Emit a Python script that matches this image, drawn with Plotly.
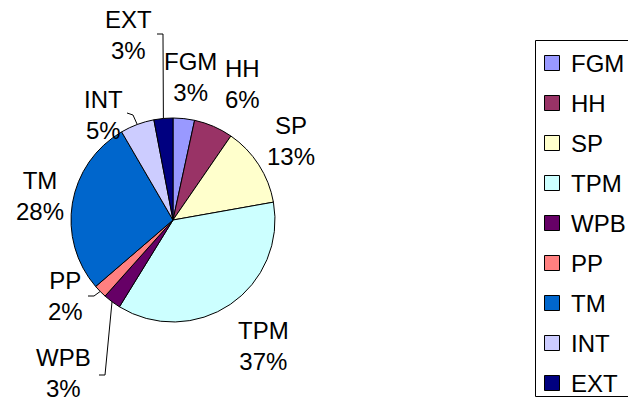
import plotly.graph_objects as go
import math

# ---- data ----
labels = ["FGM", "HH", "SP", "TPM", "WPB", "PP", "TM", "INT", "EXT"]
values = [3.4, 6.2, 12.6, 36.6, 2.8, 2.1, 27.9, 5.4, 3.0]
colors = ["#9999FF", "#993366", "#FFFFCC", "#CCFFFF", "#660066",
          "#FF8080", "#0066CC", "#CCCCFF", "#000080"]

# ---- layout / style ----
W, H = 628, 402
CX, CY, R = 173, 220, 102  # pie centre and radius in pixels
FONT = "Arial, Liberation Sans, sans-serif"

# label block centres (pixels)
label_pos = {
    "FGM": (190, 77), "HH": (242, 84), "SP": (291, 141), "TPM": (263, 346),
    "WPB": (63, 373), "PP": (65, 296), "TM": (40, 196), "INT": (103, 115),
    "EXT": (128, 35),
}
# leader lines: label-side anchor points (pixels), ending at slice edge
leader_pts = {
    "EXT": [(157, 34), (163, 34)],
    "INT": [(127, 113), (133, 115)],
    "PP": [(88, 296), (94, 296)],
    "WPB": [(99, 375), (105, 375)],
}
# legend geometry (pixels)
LEG_BOX = (535.5, 40.5, W + 20, 396.5)
LEG_FIRST_Y, LEG_STEP = 63, 40
LEG_SQ_X, LEG_SQ = 544.5, 15
LEG_TEXT_X = 569


def px(x, y):
    return x / W, 1 - y / H


def path_of(points):
    return "M " + " L ".join(f"{px(x, y)[0]:.5f},{px(x, y)[1]:.5f}" for x, y in points)


total = sum(values)
mid_angle = {}
cum = 0.0
for lab, v in zip(labels, values):
    mid_angle[lab] = (cum + v / 2) / total * 360.0
    cum += v

fig = go.Figure()
fig.add_trace(go.Pie(
    labels=labels, values=values, sort=False, direction="clockwise",
    rotation=0, textinfo="none", hoverinfo="label+percent",
    marker=dict(colors=colors, line=dict(color="black", width=1)),
    domain=dict(x=[(CX - R) / W, (CX + R) / W],
                y=[1 - (CY + R) / H, 1 - (CY - R) / H]),
    showlegend=False,
))

annotations = []
for lab, v in zip(labels, values):
    x, y = px(*label_pos[lab])
    pct = round(v / total * 100)
    annotations.append(dict(
        x=x, y=y, xref="paper", yref="paper", showarrow=False,
        text=f"{lab}<br>{pct}%", align="center",
        font=dict(family=FONT, size=24, color="black"),
        xanchor="center", yanchor="middle",
    ))

shapes = []
for lab, pts in leader_pts.items():
    a = math.radians(mid_angle[lab])
    ex, ey = CX + R * math.sin(a), CY - R * math.cos(a)
    shapes.append(dict(type="path", path=path_of(pts + [(ex, ey)]),
                       xref="paper", yref="paper",
                       line=dict(color="black", width=1)))

# manual legend (box runs past the right edge like the reference)
lx0, ly0, lx1, ly1 = LEG_BOX
shapes.append(dict(type="path", xref="paper", yref="paper",
                   path=path_of([(lx1, ly0), (lx0, ly0), (lx0, ly1), (lx1, ly1)]),
                   line=dict(color="black", width=1)))
for i, (lab, col) in enumerate(zip(labels, colors)):
    yc = LEG_FIRST_Y + LEG_STEP * i
    x0, y0 = px(LEG_SQ_X, yc - LEG_SQ / 2)
    x1, y1 = px(LEG_SQ_X + LEG_SQ, yc + LEG_SQ / 2)
    shapes.append(dict(type="rect", xref="paper", yref="paper",
                       x0=x0, y0=y1, x1=x1, y1=y0, fillcolor=col,
                       line=dict(color="black", width=1)))
    tx, ty = px(LEG_TEXT_X, yc)
    annotations.append(dict(
        x=tx, y=ty, xref="paper", yref="paper", showarrow=False,
        text=lab, xanchor="left", yanchor="middle",
        font=dict(family=FONT, size=24, color="black"),
    ))

fig.update_layout(
    width=W, height=H, margin=dict(l=0, r=0, t=0, b=0),
    paper_bgcolor="white", plot_bgcolor="white",
    annotations=annotations, shapes=shapes,
    showlegend=False,
)

fig.write_html("out.html")
